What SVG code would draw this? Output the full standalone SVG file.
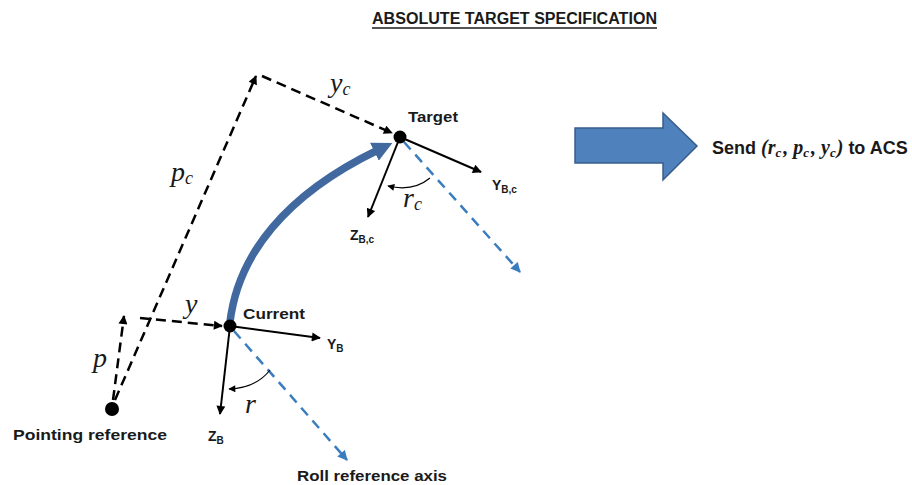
<svg xmlns="http://www.w3.org/2000/svg" width="912" height="485" viewBox="0 0 912 485">
<style>
.lbl{font-family:"Liberation Sans",Arial,sans-serif;font-weight:bold;font-size:15px;fill:#1a1a1a}
.ax{font-size:14px}
.sub{font-size:10px}
.math{font-family:"Liberation Serif","Times New Roman",serif;font-style:italic;font-size:28px;fill:#1a1a1a}
.msub{font-size:18px}
.dash{fill:none;stroke:#000;stroke-width:2.5;stroke-dasharray:10 6}
.bdash{fill:none;stroke:#3a7dbf;stroke-width:2.5;stroke-dasharray:10 7}
.axis{fill:none;stroke:#000;stroke-width:2}
.arc{fill:none;stroke:#000;stroke-width:1.2}
.dot{fill:#000}
</style>
<defs>
<marker id="ah" viewBox="0 0 10 10" refX="9" refY="5" markerWidth="11" markerHeight="9" markerUnits="userSpaceOnUse" orient="auto"><path d="M0,0 L10,5 L0,10 Z" fill="#000"/></marker>
<marker id="ahs" viewBox="0 0 10 10" refX="9" refY="5" markerWidth="8" markerHeight="7" markerUnits="userSpaceOnUse" orient="auto"><path d="M0,0 L10,5 L0,10 Z" fill="#000"/></marker>
<marker id="bah" viewBox="0 0 10 10" refX="9" refY="5" markerWidth="11" markerHeight="10" markerUnits="userSpaceOnUse" orient="auto"><path d="M0,0 L10,5 L0,10 Z" fill="#3a7dbf"/></marker>
<marker id="big" viewBox="0 0 10 10" refX="2" refY="5" markerWidth="20" markerHeight="22" markerUnits="userSpaceOnUse" orient="auto"><path d="M0,0 L10,5 L0,10 Z" fill="#41699f"/></marker>
</defs>

<g id="title">
<text class="lbl" x="372" y="24" style="font-size:16px" textLength="285" lengthAdjust="spacingAndGlyphs">ABSOLUTE TARGET SPECIFICATION</text>
<line x1="372" y1="28" x2="657" y2="28" stroke="#1a1a1a" stroke-width="1.5"/>
</g>

<g id="connectors">
<line class="dash" x1="113" y1="400" x2="124" y2="316" marker-end="url(#ah)"/>
<line class="dash" x1="115" y1="400" x2="256" y2="76" marker-end="url(#ah)"/>
<line class="dash" x1="140" y1="318" x2="222" y2="326" marker-end="url(#ah)"/>
<line class="dash" x1="262" y1="76" x2="392" y2="133" marker-end="url(#ah)"/>
<line class="axis" x1="230" y1="326" x2="320" y2="338" marker-end="url(#ah)"/>
<line class="axis" x1="230" y1="326" x2="220" y2="414" marker-end="url(#ah)"/>
<line class="bdash" x1="234" y1="331" x2="347" y2="460" marker-end="url(#bah)"/>
<path class="arc" d="M270,370 Q256,388 229,389" marker-end="url(#ahs)"/>
<line class="axis" x1="400" y1="137" x2="481" y2="172" marker-end="url(#ah)"/>
<line class="axis" x1="400" y1="137" x2="368" y2="217" marker-end="url(#ah)"/>
<line class="bdash" x1="404" y1="142" x2="520" y2="272" marker-end="url(#bah)"/>
<path class="arc" d="M430,178 Q413,192 388,186" marker-end="url(#ahs)"/>
<path d="M230,322 C238,255 285,195 378,150" fill="none" stroke="#41699f" stroke-width="7.5" marker-end="url(#big)"/>
</g>

<g id="pointing-reference">
<circle class="dot" cx="112" cy="409" r="7"/>
<text class="lbl" x="13" y="440" textLength="154" lengthAdjust="spacingAndGlyphs">Pointing reference</text>
</g>

<g id="current">
<circle class="dot" cx="230" cy="326" r="6.5"/>
<text class="lbl" x="243" y="319" textLength="62" lengthAdjust="spacingAndGlyphs">Current</text>
</g>

<g id="target">
<circle class="dot" cx="400" cy="137" r="6.5"/>
<text class="lbl" x="408" y="122" textLength="50" lengthAdjust="spacingAndGlyphs">Target</text>
</g>

<g id="labels">
<text class="lbl ax" x="327" y="349">Y<tspan class="sub" dy="3">B</tspan></text>
<text class="lbl ax" x="208" y="441">Z<tspan class="sub" dy="3">B</tspan></text>
<text class="lbl ax" x="492" y="190">Y<tspan class="sub" dy="3">B,c</tspan></text>
<text class="lbl ax" x="350" y="240">Z<tspan class="sub" dy="3">B,c</tspan></text>
<text class="lbl" x="297" y="481" textLength="150" lengthAdjust="spacingAndGlyphs">Roll reference axis</text>
<text class="math" x="330" y="92">y<tspan class="msub" dy="3">c</tspan></text>
<text class="math" x="171" y="181">p<tspan class="msub" dy="3">c</tspan></text>
<text class="math" x="185" y="313">y</text>
<text class="math" x="93" y="367">p</text>
<text class="math" x="245" y="413">r</text>
<text class="math" x="403" y="207">r<tspan class="msub" dy="3">c</tspan></text>
</g>

<g id="send">
<polygon points="575,128 663,128 663,113 697,146 663,180 663,163 575,163" fill="#4f81bd" stroke="#385d8a" stroke-width="1.5"/>
<text class="lbl" x="712" y="154" style="font-size:18px">Send <tspan font-family="Liberation Serif" font-style="italic" font-size="20">(r<tspan font-size="13" dy="3">c</tspan><tspan dy="-3" dx="2">, p</tspan><tspan font-size="13" dy="3">c</tspan><tspan dy="-3" dx="2">, y</tspan><tspan font-size="13" dy="3">c</tspan><tspan dy="-3" dx="1">)</tspan></tspan> to ACS</text>
</g>
</svg>
